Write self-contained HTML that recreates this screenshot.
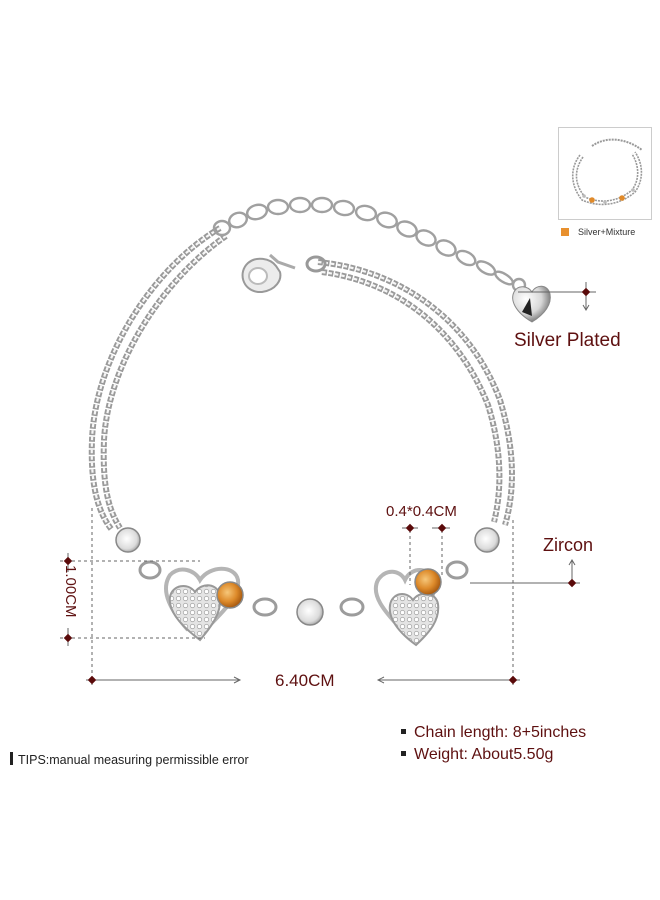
<!DOCTYPE html>
<html><head><meta charset="utf-8"><style>
html,body{margin:0;padding:0;background:#fff}
svg{display:block}
text{font-family:"Liberation Sans",sans-serif}
</style></head><body>
<svg width="660" height="900" viewBox="0 0 660 900" xmlns="http://www.w3.org/2000/svg">
<defs>
<radialGradient id="og" cx="40%" cy="40%" r="60%"><stop offset="0" stop-color="#f6c77a"/><stop offset="0.6" stop-color="#dd8a2a"/><stop offset="1" stop-color="#a85a10"/></radialGradient>
<radialGradient id="cg" cx="45%" cy="45%" r="60%"><stop offset="0" stop-color="#ffffff"/><stop offset="0.7" stop-color="#dcdcdc"/><stop offset="1" stop-color="#9a9a9a"/></radialGradient>
<radialGradient id="sg" cx="35%" cy="35%" r="70%"><stop offset="0" stop-color="#ffffff"/><stop offset="0.6" stop-color="#d8d8d8"/><stop offset="1" stop-color="#707070"/></radialGradient>
<pattern id="pave" width="7" height="7" patternUnits="userSpaceOnUse"><rect width="7" height="7" fill="#e4e4e4"/><circle cx="3.5" cy="3.5" r="2.2" fill="#fff" stroke="#aaa" stroke-width="0.8"/></pattern>
</defs>

<!-- chains -->
<g fill="none" stroke-linecap="butt">
 <g stroke="#9a9a9a" stroke-width="6" stroke-dasharray="5 1.5">
  <path d="M220,228 C150,270 95,360 92,440 C90,490 100,515 112,530"/>
  <path d="M226,236 C162,280 108,365 104,440 C102,490 110,512 120,528"/>
  <path d="M318,262 C400,270 470,320 500,400 C515,450 515,490 505,525"/>
  <path d="M322,272 C398,282 458,330 488,405 C502,450 502,490 494,522"/>
 </g>
 <g stroke="#f6f6f6" stroke-width="2.2" stroke-dasharray="3.5 3">
  <path d="M220,228 C150,270 95,360 92,440 C90,490 100,515 112,530"/>
  <path d="M226,236 C162,280 108,365 104,440 C102,490 110,512 120,528"/>
  <path d="M318,262 C400,270 470,320 500,400 C515,450 515,490 505,525"/>
  <path d="M322,272 C398,282 458,330 488,405 C502,450 502,490 494,522"/>
 </g>
</g>
<!-- extension chain -->
<g fill="none" stroke="#a0a0a0" stroke-width="2.4">
 <ellipse cx="222" cy="228" rx="8" ry="7"/>
 <ellipse cx="238" cy="220" rx="9" ry="7" transform="rotate(-20 238 220)"/>
 <ellipse cx="257" cy="212" rx="10" ry="7" transform="rotate(-15 257 212)"/>
 <ellipse cx="278" cy="207" rx="10" ry="7"/>
 <ellipse cx="300" cy="205" rx="10" ry="7"/>
 <ellipse cx="322" cy="205" rx="10" ry="7"/>
 <ellipse cx="344" cy="208" rx="10" ry="7" transform="rotate(8 344 208)"/>
 <ellipse cx="366" cy="213" rx="10" ry="7" transform="rotate(12 366 213)"/>
 <ellipse cx="387" cy="220" rx="10" ry="7" transform="rotate(18 387 220)"/>
 <ellipse cx="407" cy="229" rx="10" ry="7" transform="rotate(22 407 229)"/>
 <ellipse cx="426" cy="238" rx="10" ry="7" transform="rotate(25 426 238)"/>
 <ellipse cx="446" cy="248" rx="10" ry="7" transform="rotate(25 446 248)"/>
 <ellipse cx="466" cy="258" rx="10" ry="6" transform="rotate(28 466 258)"/>
 <ellipse cx="486" cy="268" rx="10" ry="5" transform="rotate(30 486 268)"/>
 <ellipse cx="504" cy="278" rx="10" ry="4" transform="rotate(32 504 278)"/>
 <circle cx="519" cy="285" r="6"/>
</g>
<!-- heart pendant -->
<path d="M532,322 C515,312 510,300 514,292 C518,284 528,286 532,292 C536,284 548,284 550,294 C552,304 545,314 532,322 Z" fill="url(#sg)" stroke="#888" stroke-width="1"/>
<path d="M530,298 L532,316 L522,312 Z" fill="#222"/>
<!-- clasp -->
<path d="M258,292 C242,290 238,272 248,263 C256,256 270,258 276,266 L280,272 C282,280 276,290 262,292 Z" fill="#ececec" stroke="#999" stroke-width="2"/>
<ellipse cx="258" cy="276" rx="9" ry="8" fill="#fff" stroke="#bbb" stroke-width="2"/>
<path d="M270,255 L278,262 L295,268" fill="none" stroke="#aaa" stroke-width="3"/>
<ellipse cx="316" cy="264" rx="9" ry="7" fill="none" stroke="#999" stroke-width="3"/>

<!-- pendant section links -->
<g fill="none" stroke="#9c9c9c" stroke-width="3">
 <ellipse cx="150" cy="570" rx="10" ry="8"/>
 <ellipse cx="265" cy="607" rx="11" ry="8"/>
 <ellipse cx="352" cy="607" rx="11" ry="8"/>
 <ellipse cx="457" cy="570" rx="10" ry="8"/>
 <path d="M188,630 C170,610 160,590 170,575 C180,565 195,570 200,580 C210,565 235,565 238,580 C240,595 225,610 205,630" stroke="#b5b5b5" stroke-width="4"/>
 <path d="M402,630 C385,612 370,595 378,580 C386,568 400,570 405,580 C412,565 432,568 434,582 C436,598 425,612 410,630" stroke="#b5b5b5" stroke-width="4"/>
</g>
<path d="M200,640 C180,625 168,610 170,597 C172,585 188,582 195,592 C202,582 218,583 220,596 C222,612 212,626 200,640 Z" fill="url(#pave)" stroke="#999" stroke-width="2"/>
<path d="M416,645 C398,632 388,618 390,605 C392,593 406,590 413,600 C420,590 436,592 438,604 C440,620 430,632 416,645 Z" fill="url(#pave)" stroke="#999" stroke-width="2"/>
<g stroke="#888" stroke-width="1.5">
 <circle cx="128" cy="540" r="12" fill="url(#cg)"/>
 <circle cx="230" cy="595" r="13" fill="url(#og)"/>
 <circle cx="310" cy="612" r="13" fill="url(#cg)"/>
 <circle cx="428" cy="582" r="13" fill="url(#og)"/>
 <circle cx="487" cy="540" r="12" fill="url(#cg)"/>
</g>

<!-- measurement lines -->
<g stroke="#666" stroke-width="1" fill="none">
 <line x1="92" y1="508" x2="92" y2="685" stroke-dasharray="3 3"/>
 <line x1="513" y1="520" x2="513" y2="685" stroke-dasharray="3 3"/>
 <line x1="60" y1="561" x2="200" y2="561" stroke-dasharray="3 3"/>
 <line x1="60" y1="638" x2="205" y2="638" stroke-dasharray="3 3"/>
 <line x1="410" y1="530" x2="410" y2="585" stroke-dasharray="3 3"/>
 <line x1="442" y1="530" x2="442" y2="575" stroke-dasharray="3 3"/>
 <line x1="86" y1="680" x2="240" y2="680"/>
 <path d="M234,677 L240,680 L234,683"/>
 <line x1="378" y1="680" x2="520" y2="680"/>
 <path d="M384,677 L378,680 L384,683"/>
 <line x1="68" y1="553" x2="68" y2="572"/>
 <line x1="68" y1="628" x2="68" y2="646"/>
 <line x1="402" y1="528" x2="418" y2="528"/>
 <line x1="432" y1="528" x2="450" y2="528"/>
 <line x1="470" y1="583" x2="580" y2="583"/>
 <line x1="572" y1="583" x2="572" y2="560"/>
 <path d="M569,565 L572,560 L575,565"/>
 <line x1="518" y1="292" x2="596" y2="292"/>
 <line x1="586" y1="282" x2="586" y2="310"/>
 <path d="M583,305 L586,310 L589,305"/>
</g>
<g fill="#5a0a0a">
 <rect x="89" y="677" width="6" height="6" transform="rotate(45 92 680)"/>
 <rect x="510" y="677" width="6" height="6" transform="rotate(45 513 680)"/>
 <rect x="65" y="558" width="6" height="6" transform="rotate(45 68 561)"/>
 <rect x="65" y="635" width="6" height="6" transform="rotate(45 68 638)"/>
 <rect x="407" y="525" width="6" height="6" transform="rotate(45 410 528)"/>
 <rect x="439" y="525" width="6" height="6" transform="rotate(45 442 528)"/>
 <rect x="569" y="580" width="6" height="6" transform="rotate(45 572 583)"/>
 <rect x="583" y="289" width="6" height="6" transform="rotate(45 586 292)"/>
</g>

<g fill="#5e1010">
 <text x="275" y="686" font-size="17">6.40CM</text>
 <text x="0" y="0" font-size="15" transform="translate(66,565) rotate(90)">1.00CM</text>
 <text x="386" y="516" font-size="15">0.4*0.4CM</text>
 <text x="543" y="551" font-size="18">Zircon</text>
 <text x="514" y="346" font-size="19">Silver Plated</text>
 <text x="414" y="737" font-size="16">Chain length: 8+5inches</text>
 <text x="414" y="759" font-size="16">Weight: About5.50g</text>
</g>
<rect x="401" y="729" width="5" height="5" fill="#222"/>
<rect x="401" y="751" width="5" height="5" fill="#222"/>
<rect x="10" y="752" width="3" height="13" fill="#222"/>
<text x="18" y="764" font-size="12.5" fill="#222">TIPS:manual measuring permissible error</text>

<!-- thumbnail -->
<rect x="558.5" y="127.5" width="93" height="92" fill="#fff" stroke="#ccc"/>
<g fill="none" stroke="#999" stroke-width="1.6" stroke-dasharray="2 1">
 <path d="M580,155 C570,168 570,185 582,200 C600,208 620,205 635,192 C645,178 642,162 635,152"/>
 <path d="M583,157 C574,170 574,184 585,197 C600,204 618,202 632,190 C641,178 638,163 632,154"/>
 <path d="M592,146 C606,136 626,138 642,150" stroke-width="2"/>
</g>
<circle cx="592" cy="200" r="2.8" fill="#e08a2a"/>
<circle cx="622" cy="198" r="2.8" fill="#e08a2a"/>
<circle cx="605" cy="202" r="1.8" fill="#bbb"/>
<circle cx="584" cy="196" r="1.8" fill="#bbb"/>
<circle cx="633" cy="190" r="1.8" fill="#bbb"/>
<rect x="561" y="228" width="8" height="8" fill="#e8902e"/>
<text x="578" y="235" font-size="9" fill="#333">Silver+Mixture</text>
</svg>
</body></html>
